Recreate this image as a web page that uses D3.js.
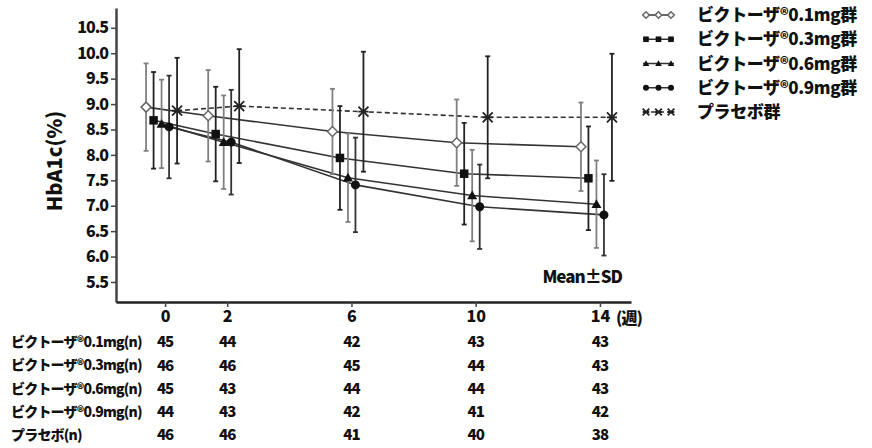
<!DOCTYPE html>
<html><head><meta charset="utf-8">
<script src="https://cdn.jsdelivr.net/npm/d3@7"></script>
<style>body{margin:0;background:#fff}svg{display:block}text{font-family:"Noto Sans CJK JP","Noto Sans",sans-serif;font-weight:900;fill:#111}</style>
</head><body><svg id="c" width="872" height="448"></svg>
<script>
const weeks = [0, 2, 6, 10, 14];
const yTicks = [5.5, 6.0, 6.5, 7.0, 7.5, 8.0, 8.5, 9.0, 9.5, 10.0, 10.5];
const groupNames = ["ビクトーザ®0.1mg群", "ビクトーザ®0.3mg群", "ビクトーザ®0.6mg群", "ビクトーザ®0.9mg群", "プラセボ群"];
const rowLabels = ["ビクトーザ®0.1mg(n)", "ビクトーザ®0.3mg(n)", "ビクトーザ®0.6mg(n)", "ビクトーザ®0.9mg(n)", "プラセボ(n)"];
const mean01 = [8.94, 8.77, 8.46, 8.24, 8.16];
const sd01   = [0.86, 0.90, 0.84, 0.85, 0.87];
const mean03 = [8.68, 8.41, 7.94, 7.63, 7.54];
const sd03   = [0.95, 0.93, 1.02, 1.00, 1.02];
const mean06 = [8.61, 8.25, 7.55, 7.20, 7.03];
const sd06   = [0.87, 0.92, 0.87, 0.90, 0.86];
const mean09 = [8.55, 8.25, 7.41, 6.98, 6.82];
const sd09   = [1.01, 1.03, 0.93, 0.83, 0.80];
const meanPl = [8.87, 8.96, 8.85, 8.74, 8.74];
const sdPl   = [1.04, 1.12, 1.18, 1.20, 1.25];
const n01 = [45, 44, 42, 43, 43];
const n03 = [46, 46, 45, 44, 43];
const n06 = [45, 43, 44, 44, 43];
const n09 = [44, 43, 42, 41, 42];
const nPl = [46, 46, 41, 40, 38];

const series = [
  {name: groupNames[0], mean: mean01, sd: sd01, n: n01, shape: "diamond", off: -19, bar: "#808080", dash: null},
  {name: groupNames[1], mean: mean03, sd: sd03, n: n03, shape: "square", off: -11.5, bar: "#222", dash: null},
  {name: groupNames[2], mean: mean06, sd: sd06, n: n06, shape: "triangle", off: -3.5, bar: "#808080", dash: null},
  {name: groupNames[3], mean: mean09, sd: sd09, n: n09, shape: "circle", off: 4, bar: "#333", dash: null},
  {name: groupNames[4], mean: meanPl, sd: sdPl, n: nPl, shape: "x", off: 12, bar: "#222", dash: "5,3"}
];

const svg = d3.select("#c");
const x = d3.scaleLinear().domain([-1.58, 15]).range([116, 631]);
const y = d3.scaleLinear().domain([5.106, 10.89]).range([302, 8]);

// axes
const yAx = svg.append("g").attr("transform", "translate(116,0)")
  .call(d3.axisLeft(y).tickValues(yTicks).tickFormat(d3.format(".1f")).tickSize(5).tickSizeOuter(0));
yAx.select(".domain").attr("stroke", "#444").attr("stroke-width", 2.5);
yAx.selectAll(".tick line").attr("stroke", "#444").attr("stroke-width", 1.5);
yAx.selectAll(".tick text").attr("x", -8).style("font-size", "16px").style("letter-spacing", "-1px").attr("fill", "#111");

const xAx = svg.append("g").attr("transform", "translate(0,302)")
  .call(d3.axisBottom(x).tickValues(weeks).tickFormat(d3.format("d")).tickSize(5).tickSizeOuter(0));
xAx.select(".domain").attr("stroke", "#222").attr("stroke-width", 2.5);
xAx.selectAll(".tick line").attr("stroke", "#444").attr("stroke-width", 1.5);
xAx.selectAll(".tick text").attr("y", 9).style("font-size", "16px").attr("fill", "#111");
svg.append("text").attr("x", 616).attr("y", 324).style("font-size", "16px").style("letter-spacing", "-1px").text("(週)");

svg.append("text").attr("transform", "translate(62,161) rotate(-90)").attr("text-anchor", "middle")
  .style("font-size", "20px").text("HbA1c(%)");
svg.append("text").attr("x", 622).attr("y", 283).attr("text-anchor", "end")
  .style("font-size", "17px").style("letter-spacing", "-1px").text("Mean±SD");

function marker(g, shape, cx, cy, s) {
  if (shape === "diamond") {
    g.append("path").attr("d", `M${cx},${cy - s}L${cx + s},${cy}L${cx},${cy + s}L${cx - s},${cy}Z`)
      .attr("fill", "#fff").attr("stroke", "#666").attr("stroke-width", 1.5);
  } else if (shape === "square") {
    g.append("rect").attr("x", cx - s * 0.85).attr("y", cy - s * 0.85).attr("width", s * 1.7).attr("height", s * 1.7).attr("fill", "#111");
  } else if (shape === "triangle") {
    g.append("path").attr("d", `M${cx},${cy - s}L${cx + s},${cy + s * 0.75}L${cx - s},${cy + s * 0.75}Z`).attr("fill", "#111");
  } else if (shape === "circle") {
    g.append("circle").attr("cx", cx).attr("cy", cy).attr("r", s * 0.9).attr("fill", "#111");
  } else {
    g.append("path").attr("d", `M${cx - s},${cy - s}L${cx + s},${cy + s}M${cx - s},${cy + s}L${cx + s},${cy - s}M${cx - s},${cy}L${cx + s},${cy}`)
      .attr("stroke", "#222").attr("stroke-width", 1.8).attr("fill", "none");
  }
}

// lines
series.forEach(s => {
  const line = d3.line().x((d, i) => x(weeks[i]) + s.off).y(d => y(d));
  svg.append("path").datum(s.mean).attr("d", line).attr("fill", "none")
    .attr("stroke", "#333").attr("stroke-width", 1.6).attr("stroke-dasharray", s.dash);
});
// error bars
series.forEach(s => {
  const g = svg.append("g");
  s.mean.forEach((m, i) => {
    const cx = x(weeks[i]) + s.off;
    const t = y(m + s.sd[i]), b = y(m - s.sd[i]);
    g.append("line").attr("x1", cx).attr("x2", cx).attr("y1", t).attr("y2", b).attr("stroke", s.bar).attr("stroke-width", 1.8);
    [t, b].forEach(yy => g.append("line").attr("x1", cx - 2.5).attr("x2", cx + 2.5).attr("y1", yy).attr("y2", yy).attr("stroke", s.bar).attr("stroke-width", 1.8));
  });
});
// markers
series.forEach(s => {
  const g = svg.append("g");
  s.mean.forEach((m, i) => marker(g, s.shape, x(weeks[i]) + s.off, y(m), 5));
});

// legend
const legY = d3.scalePoint().domain(groupNames).range([15, 112]);
series.forEach(s => {
  const yy = legY(s.name);
  const g = svg.append("g");
  g.append("line").attr("x1", 643).attr("x2", 674).attr("y1", yy).attr("y2", yy).attr("stroke", "#333").attr("stroke-width", 1.5).attr("stroke-dasharray", s.dash);
  [646, 658.5, 671].forEach(cx => marker(g, s.shape, cx, yy, 3.3));
  g.append("text").attr("x", 697).attr("y", yy).attr("dy", "0.36em").style("font-size", "17px").style("letter-spacing", "-0.4px").text(s.name);
});

// n table
const rowY = d3.scalePoint().domain(rowLabels).range([342, 435]);
series.forEach((s, k) => {
  const yy = rowY(rowLabels[k]);
  svg.append("text").attr("x", 11).attr("y", yy).attr("dy", "0.36em").style("font-size", "14px").style("letter-spacing", "-0.8px").text(rowLabels[k]);
  s.n.forEach((v, i) => svg.append("text").attr("x", x(weeks[i])).attr("y", yy).attr("dy", "0.36em")
    .attr("text-anchor", "middle").style("font-size", "15px").style("letter-spacing", "-1px").text(v));
});
</script></body></html>
